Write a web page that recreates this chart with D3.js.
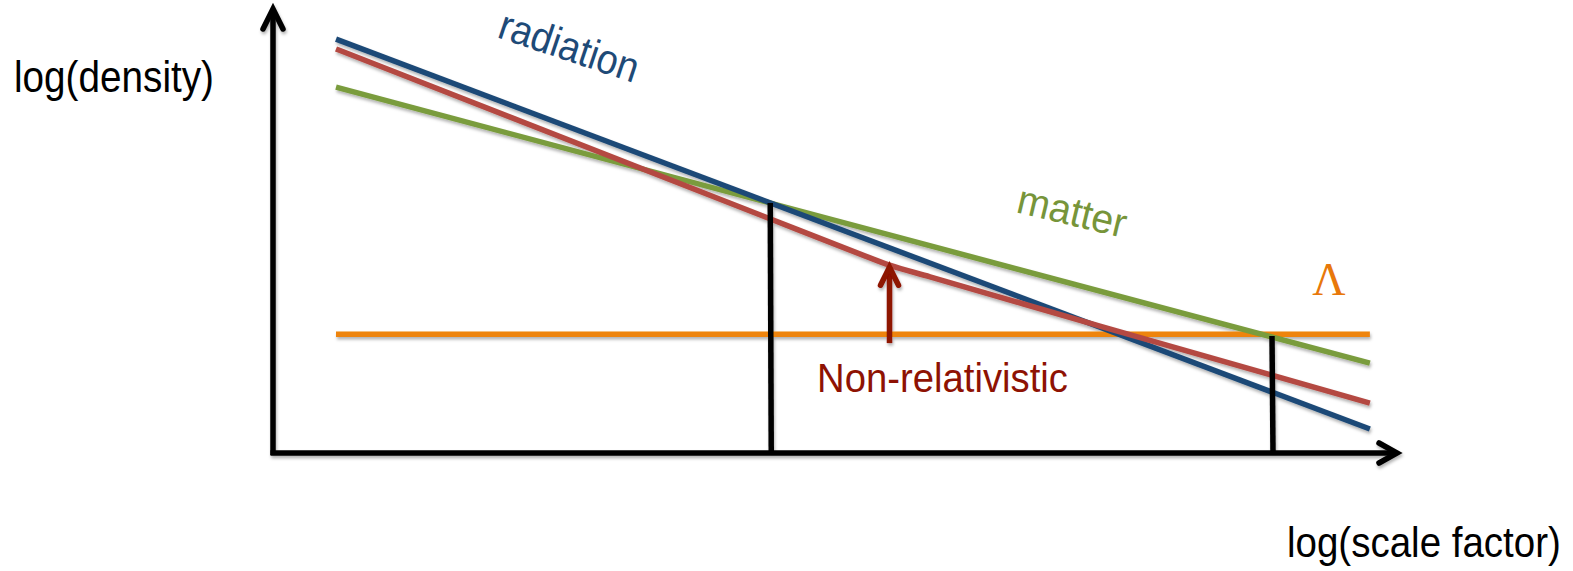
<!DOCTYPE html>
<html><head><meta charset="utf-8">
<script src="https://cdn.jsdelivr.net/npm/d3@7"></script>
<style>html,body{margin:0;padding:0;background:#fff;}svg{display:block;}</style>
</head><body>
<script>
// ---- data (abstract log units) ----
const radiation = [{x: 0.56, y: 9.30}, {x: 9.75, y: 0.54}];
const matter = [{x: 0.56, y: 8.22}, {x: 9.75, y: 2.02}];
const lambda = [{x: 0.56, y: 2.67}, {x: 9.75, y: 2.67}];
const nonRel = [
  {x: 0.56, y: 9.08}, {x: 4.40, y: 5.28}, {x: 5.22, y: 4.47},
  {x: 5.48, y: 4.22}, {x: 5.84, y: 3.96}, {x: 7.35, y: 2.85}, {x: 9.75, y: 1.12}
];
const equalities = [{x: 4.42, top: 5.62}, {x: 8.88, top: 2.63}];
const transitionArrow = {x: 5.48, from: 2.47, to: 4.22};
const labels = {radiation: "radiation", matter: "matter", lambda: "Λ",
  nonRel: "Non-relativistic", yAxis: "log(density)", xAxis: "log(scale factor)"};

const W = 1573, H = 571;
const x = d3.scaleLinear().domain([0, 10]).range([273, 1398]);
const y = d3.scaleLinear().domain([0, 10]).range([453, 8]);

const svg = d3.select("body").append("svg").attr("width", W).attr("height", H);
const defs = svg.append("defs");
const f = defs.append("filter").attr("id", "sh").attr("x", "-10%").attr("y", "-10%").attr("width", "120%").attr("height", "130%");
f.append("feDropShadow").attr("dx", 1).attr("dy", 2.5).attr("stdDeviation", 1.6)
  .attr("flood-color", "#000").attr("flood-opacity", 0.3);

const line = d3.line().x(d => x(d.x)).y(d => y(d.y));
const curve = d3.line().x(d => x(d.x)).y(d => y(d.y)).curve(d3.curveMonotoneX);

const g = svg.append("g").attr("filter", "url(#sh)");
const LW = 5.5;

// axes
const axisColor = "#000";
g.append("line").attr("x1", x(0)).attr("y1", y(0) + 2).attr("x2", x(0)).attr("y2", y(10) + 2)
  .attr("stroke", axisColor).attr("stroke-width", LW);
g.append("polyline").attr("points", [[x(0) - 10, y(10) + 21], [x(0), y(10) + 1], [x(0) + 10, y(10) + 21]].join(" "))
  .attr("fill", "none").attr("stroke", axisColor).attr("stroke-width", LW).attr("stroke-linecap", "round");
g.append("line").attr("x1", x(0) - 2.5).attr("y1", y(0)).attr("x2", x(10) - 2).attr("y2", y(0))
  .attr("stroke", axisColor).attr("stroke-width", LW);
g.append("polyline").attr("points", [[x(10) - 19, y(0) - 10], [x(10) - 1, y(0)], [x(10) - 19, y(0) + 10]].join(" "))
  .attr("fill", "none").attr("stroke", axisColor).attr("stroke-width", LW).attr("stroke-linecap", "round");

// series
g.append("path").datum(lambda).attr("d", line).attr("fill", "none").attr("stroke", "#EE8408").attr("stroke-width", LW);
g.append("path").datum(matter).attr("d", line).attr("fill", "none").attr("stroke", "#7A9C3E").attr("stroke-width", LW);
g.append("path").datum(radiation).attr("d", line).attr("fill", "none").attr("stroke", "#1E4A77").attr("stroke-width", LW);
g.append("path").datum(nonRel).attr("d", curve).attr("fill", "none").attr("stroke", "#B44A43").attr("stroke-width", LW);

// equality markers
g.selectAll("line.eq").data(equalities).join("line").attr("class", "eq")
  .attr("x1", d => x(d.x)).attr("y1", d => y(d.top)).attr("x2", d => x(d.x) + 1).attr("y2", y(0))
  .attr("stroke", "#000").attr("stroke-width", LW);

// transition arrow
const ac = "#8E1203";
g.append("line").attr("x1", x(transitionArrow.x)).attr("y1", y(transitionArrow.from))
  .attr("x2", x(transitionArrow.x)).attr("y2", y(transitionArrow.to) + 2)
  .attr("stroke", ac).attr("stroke-width", LW);
g.append("polyline").attr("points", [[x(transitionArrow.x) - 9, y(transitionArrow.to) + 20], [x(transitionArrow.x), y(transitionArrow.to) + 2], [x(transitionArrow.x) + 9, y(transitionArrow.to) + 20]].join(" "))
  .attr("fill", "none").attr("stroke", ac).attr("stroke-width", LW).attr("stroke-linecap", "round");

// labels: natural text, horizontally scaled by transform to target width
const font = "'Liberation Sans', Arial, Helvetica, sans-serif";
function txt(t, px, py, color, len, size, rot) {
  const e = svg.append("text").attr("x", 0).attr("y", 0).text(t)
    .attr("font-family", font).attr("font-size", size).attr("fill", color);
  const nat = e.node().getComputedTextLength() || len;
  const sx = len / nat;
  e.attr("transform", `translate(${px},${py}) rotate(${rot || 0}) scale(${sx},1)`);
  return e;
}
txt(labels.radiation, 496, 37, "#1E4A77", 145, 42, 18.5);
txt(labels.matter, 1015, 212, "#77953A", 111, 41, 13.5);
txt(labels.nonRel, 817, 392, "#8E1203", 251, 41);
txt(labels.yAxis, 14, 92, "#000", 200, 44);
txt(labels.xAxis, 1287, 557, "#000", 274, 43);
svg.append("text").attr("x", 1329).attr("y", 295).attr("text-anchor", "middle")
  .attr("font-family", "'Liberation Serif', 'Times New Roman', serif").attr("font-size", 46)
  .attr("fill", "#E8780A").text(labels.lambda);
</script>
</body></html>
